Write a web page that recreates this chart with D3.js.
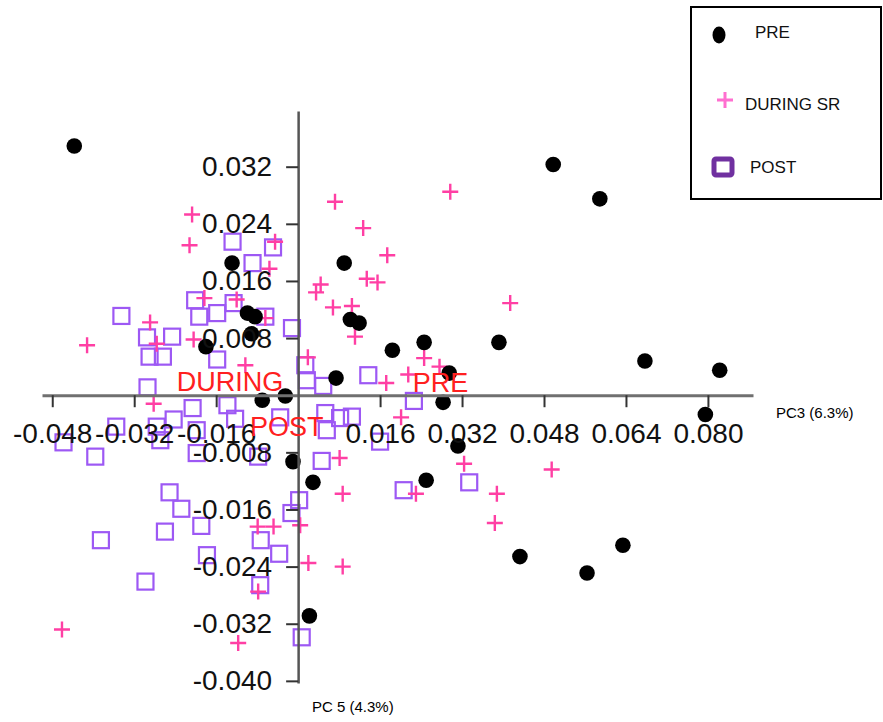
<!DOCTYPE html>
<html>
<head>
<meta charset="utf-8">
<script src="https://cdn.jsdelivr.net/npm/d3@7/dist/d3.min.js"></script>
<style>
  body { margin: 0; background: #fff; }
  svg { display: block; }
  text { font-family: "Liberation Sans", Arial, sans-serif; }
</style>
</head>
<body>
<div id="chart"></div>
<script>
// PC3 (x) / PC5 (y) scores
const preX = [-0.0437, 0.0498, 0.0589, -0.0129, 0.0090, -0.0099, -0.0084, -0.0091, -0.0180, 0.0102,
              0.0119, 0.0184, 0.0246, 0.0392, 0.0074, 0.0295, 0.0283, 0.0677, 0.0823, 0.0795,
              -0.0070, -0.0025, -0.0010, 0.0029, 0.0250, 0.0312, 0.0433, 0.0564, 0.0634, 0.0022];
const preY = [0.0349, 0.0323, 0.0275, 0.0185, 0.0185, 0.0115, 0.0110, 0.0086, 0.0068, 0.0106,
              0.0101, 0.0063, 0.0074, 0.0074, 0.0024, 0.0031, -0.0010, 0.0048, 0.0035, -0.0027,
              -0.0007, -0.0001, -0.0093, -0.0122, -0.0119, -0.0071, -0.0226, -0.0249, -0.0210, -0.0309];

const duringX = [0.0297, 0.0072, -0.0207, -0.0212, 0.0127, 0.0174, -0.0045, -0.0056, 0.0035, 0.0044,
                 0.0134, 0.0155, 0.0068, 0.0105, 0.0111, 0.0414, 0.0019, 0.0246, 0.0276, 0.0215,
                 0.0172, 0.0201, 0.0081, 0.0087, 0.0230, 0.0324, 0.0388, 0.0384, 0.0495, 0.0004,
                 -0.0048, -0.0079, 0.0020, 0.0087, -0.0078, -0.0117, -0.0461, -0.0412, -0.0289, -0.0276,
                 -0.0204, -0.0103, -0.0183, -0.0120, -0.0282, -0.0064];
const duringY = [0.0285, 0.0271, 0.0253, 0.0210, 0.0234, 0.0196, 0.0215, 0.0177, 0.0144, 0.0155,
                 0.0163, 0.0158, 0.0123, 0.0125, 0.0082, 0.0129, 0.0053, 0.0052, 0.0040, 0.0029,
                 0.0017, -0.0031, -0.0088, -0.0138, -0.0138, -0.0096, -0.0138, -0.0179, -0.0104, -0.0182,
                 -0.0184, -0.0184, -0.0235, -0.0240, -0.0275, -0.0347, -0.0328, 0.0070, 0.0102, 0.0072,
                 0.0078, 0.0042, 0.0136, 0.0134, -0.0012, 0.0108];

const postX = [-0.0128, -0.0049, -0.0089, -0.0345, -0.0201, -0.0193, -0.0158, -0.0126, -0.0064, -0.0012,
               -0.0295, -0.0246, -0.0290, -0.0264, -0.0158, -0.0294, 0.0014, 0.0017, 0.0049, 0.0137,
               0.0226, 0.0053, 0.0082, 0.0105, 0.0056, 0.0160, 0.0046, 0.0206, 0.0334, 0.0002,
               -0.0013, -0.0073, -0.0037, -0.0074, 0.0007, -0.0206, -0.0138, -0.0123, -0.0243, -0.0276,
               -0.0355, -0.0458, -0.0396, -0.0198, -0.0269, -0.0198, -0.0078, -0.0035, -0.0251, -0.0228,
               -0.0260, -0.0189, -0.0385, -0.0178, -0.0298];
const postY = [0.0215, 0.0207, 0.0185, 0.0111, 0.0133, 0.0110, 0.0115, 0.0129, 0.0110, 0.0094,
               0.0081, 0.0082, 0.0054, 0.0054, 0.0050, 0.0011, 0.0042, 0.0021, 0.0013, 0.0028,
               -0.0008, -0.0025, -0.0032, -0.0030, -0.0049, -0.0065, -0.0092, -0.0133, -0.0122, -0.0147,
               -0.0165, -0.0203, -0.0222, -0.0266, -0.0339, -0.0018, -0.0014, -0.0033, -0.0034, -0.0044,
               -0.0044, -0.0066, -0.0086, -0.0049, -0.0063, -0.0081, -0.0086, -0.0031, -0.0136, -0.0159,
               -0.0191, -0.0183, -0.0203, -0.0224, -0.0261];

// group labels drawn inside the plot (left edge, baseline)
const groupNames = ["DURING", "PRE", "POST"];
const groupLabelX = [-0.0237, 0.0224, -0.0094];
const groupLabelY = [0.0006, 0.0005, -0.0057];

const xTicks = [-0.048, -0.032, -0.016, 0.016, 0.032, 0.048, 0.064, 0.080];
const yTicks = [0.032, 0.024, 0.016, 0.008, -0.008, -0.016, -0.024, -0.032, -0.040];

const legendNames = ["PRE", "DURING SR", "POST"];

const W = 883, H = 722;
const pink = "#ff3fa4", purple = "#9d58f4";

const svg = d3.select("#chart").append("svg")
    .attr("width", W)
    .attr("height", H);

const x = d3.scaleLinear().domain([-0.05, 0.0888]).range([42, 753]);
const y = d3.scaleLinear().domain([-0.0403, 0.0398]).range([683, 111]);

const fmt = d => d.toFixed(3);

// axes cross at the origin
const xAxis = svg.append("g")
    .attr("transform", `translate(0,${y(0)})`)
    .call(d3.axisBottom(x).tickValues(xTicks).tickFormat(fmt)
        .tickSize(12).tickSizeOuter(0).tickPadding(16));

const yAxis = svg.append("g")
    .attr("transform", `translate(${x(0)},0)`)
    .call(d3.axisLeft(y).tickValues(yTicks).tickFormat(fmt)
        .tickSize(12).tickSizeOuter(0).tickPadding(14));

xAxis.select(".domain").attr("stroke", "#707070").attr("stroke-width", 3);
yAxis.select(".domain").attr("stroke", "#555").attr("stroke-width", 2.5);
svg.selectAll(".tick line").attr("stroke", "#333").attr("stroke-width", 2);
svg.selectAll(".tick text")
    .attr("font-size", 28)
    .attr("font-family", "'Liberation Sans', Arial, sans-serif")
    .attr("fill", "#111");

// points
const plot = svg.append("g");

plot.selectAll(".post")
    .data(d3.zip(postX, postY))
    .join("rect")
    .attr("class", "post")
    .attr("x", d => x(d[0]) - 8)
    .attr("y", d => y(d[1]) - 8)
    .attr("width", 16)
    .attr("height", 16)
    .attr("fill", "none")
    .attr("stroke", purple)
    .attr("stroke-width", 2.2);

plot.selectAll(".during")
    .data(d3.zip(duringX, duringY))
    .join("path")
    .attr("class", "during")
    .attr("d", d => `M${x(d[0]) - 8},${y(d[1])}h16M${x(d[0])},${y(d[1]) - 8}v16`)
    .attr("stroke", pink)
    .attr("stroke-width", 2.4);

plot.selectAll(".pre")
    .data(d3.zip(preX, preY))
    .join("circle")
    .attr("class", "pre")
    .attr("cx", d => x(d[0]))
    .attr("cy", d => y(d[1]))
    .attr("r", 7.8)
    .attr("fill", "#000");

// move tick labels above points
xAxis.raise();
yAxis.raise();

svg.append("g").selectAll("text")
    .data(groupNames)
    .join("text")
    .attr("x", (d, i) => x(groupLabelX[i]))
    .attr("y", (d, i) => y(groupLabelY[i]))
    .attr("font-size", 27)
    .attr("fill", "#ff2020")
    .text(d => d);

// axis titles
svg.append("text")
    .attr("x", 776).attr("y", 418)
    .attr("font-size", 15)
    .text("PC3 (6.3%)");

svg.append("text")
    .attr("x", 312).attr("y", 712)
    .attr("font-size", 15)
    .text("PC 5 (4.3%)");

// legend
const legend = svg.append("g");
legend.append("rect")
    .attr("x", 691).attr("y", 7)
    .attr("width", 190).attr("height", 192)
    .attr("fill", "#fff")
    .attr("stroke", "#000")
    .attr("stroke-width", 2);

legend.append("ellipse")
    .attr("cx", 719).attr("cy", 35)
    .attr("rx", 6.5).attr("ry", 8.5)
    .attr("fill", "#000");

legend.append("path")
    .attr("d", "M717,100h16M725,92v16")
    .attr("stroke", "#ff6fd0")
    .attr("stroke-width", 3);

legend.append("rect")
    .attr("x", 714).attr("y", 159)
    .attr("width", 18).attr("height", 16)
    .attr("rx", 2)
    .attr("fill", "#fff")
    .attr("stroke", "#7030a0")
    .attr("stroke-width", 5);

const legendX = [755, 745, 750];
const legendY = [38, 110, 173];
legend.selectAll(".lt")
    .data(legendNames)
    .join("text")
    .attr("class", "lt")
    .attr("x", (d, i) => legendX[i])
    .attr("y", (d, i) => legendY[i])
    .attr("font-size", 17)
    .attr("fill", "#111")
    .text(d => d);
</script>
</body>
</html>
